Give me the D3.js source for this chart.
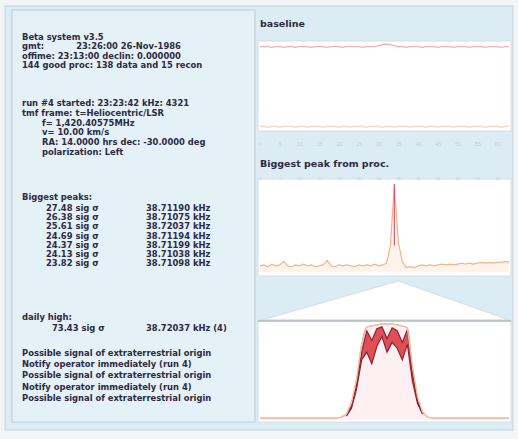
<!DOCTYPE html>
<html><head><meta charset="utf-8">
<script src="https://cdn.jsdelivr.net/npm/d3@7/dist/d3.min.js"></script>
<style>html,body{margin:0;padding:0;background:#f3f6f8;}svg{display:block;}</style>
</head><body>
<script>
// ---- data ----
const headerLines = [
  "Beta system v3.5",
  "gmt:           23:26:00 26-Nov-1986",
  "offime: 23:13:00 declin: 0.000000",
  "144 good proc: 138 data and 15 recon"
];
const runLines = [
  ["run #4 started: 23:23:42 kHz: 4321", 0],
  ["tmf frame: t=Heliocentric/LSR", 0],
  ["f= 1,420.40575MHz", 1],
  ["v= 10.00 km/s", 1],
  ["RA: 14.0000 hrs    dec: -30.0000 deg", 1],
  ["polarization: Left", 1]
];
const peakSigmas = ["27.48", "26.38", "25.61", "24.69", "24.37", "24.13", "23.82"];
const peakFreqs  = ["38.71190", "38.71075", "38.72037", "38.71194", "38.71199", "38.71038", "38.71098"];
const dailyHigh = ["73.43", "38.72037"];
const alertLines = [
  "Possible signal of extraterrestrial origin",
  "Notify operator immediately (run 4)",
  "Possible signal of extraterrestrial origin",
  "Notify operator immediately (run 4)",
  "Possible signal of extraterrestrial origin"
];
const titles = ["baseline", "Biggest peak from proc."];

// baseline spectrum (64 channels), upper (red) and lower (orange) traces
const baselineTop = [0.97,0.97,0.97,0.96,0.97,0.97,0.96,0.97,0.97,0.96,0.97,0.97,0.97,0.96,0.97,0.97,
  0.97,0.96,0.97,0.97,0.97,0.96,0.97,0.97,0.97,0.97,0.96,0.97,0.97,0.97,0.98,0.99,
  1.00,0.99,0.98,0.97,0.97,0.96,0.97,0.97,0.97,0.96,0.97,0.97,0.97,0.96,0.97,0.97,
  0.97,0.96,0.97,0.97,0.97,0.96,0.97,0.97,0.97,0.96,0.97,0.97,0.97,0.96,0.97,0.97];
const baselineBottom = [0.03,0.03,0.02,0.03,0.03,0.02,0.03,0.03,0.03,0.02,0.03,0.03,0.02,0.03,0.03,0.03,
  0.02,0.03,0.03,0.03,0.02,0.03,0.03,0.02,0.03,0.03,0.03,0.02,0.03,0.03,0.03,0.02,
  0.03,0.03,0.02,0.03,0.03,0.03,0.02,0.03,0.03,0.03,0.02,0.03,0.03,0.02,0.03,0.03,
  0.03,0.02,0.03,0.03,0.03,0.02,0.03,0.03,0.03,0.02,0.03,0.03,0.03,0.02,0.03,0.03];

// biggest-peak spectrum (64 channels)
const peakSpectrum = [0.07,0.08,0.06,0.09,0.07,0.08,0.12,0.07,0.06,0.08,0.07,0.09,0.07,0.08,0.06,0.07,
  0.08,0.13,0.07,0.06,0.08,0.07,0.08,0.07,0.06,0.08,0.07,0.08,0.07,0.09,0.07,0.08,
  0.10,0.30,1.00,0.34,0.12,0.05,0.06,0.05,0.07,0.08,0.07,0.08,0.07,0.08,0.09,0.08,
  0.09,0.08,0.09,0.10,0.09,0.10,0.09,0.10,0.11,0.10,0.11,0.10,0.11,0.11,0.12,0.11];
const peakIndex = 34;

// zoomed spectrum around the peak (50 channels): outer trace, upper and lower envelope
const zoomOuter = [0.02,0.02,0.02,0.02,0.02,0.02,0.02,0.02,0.02,0.02,0.02,0.02,0.02,0.02,0.02,0.02,
  0.03,0.06,0.18,0.42,0.78,0.96,0.97,0.98,0.99,0.99,0.99,0.98,0.97,0.95,0.55,0.24,0.08,
  0.03,0.02,0.02,0.02,0.02,0.02,0.02,0.02,0.02,0.02,0.02,0.02,0.02,0.02,0.02,0.02,0.02];
const zoomUpper = [0.02,0.02,0.02,0.02,0.02,0.02,0.02,0.02,0.02,0.02,0.02,0.02,0.02,0.02,0.02,0.02,
  0.03,0.05,0.14,0.36,0.70,0.92,0.82,0.94,0.96,0.84,0.95,0.92,0.80,0.93,0.48,0.20,0.07,
  0.03,0.02,0.02,0.02,0.02,0.02,0.02,0.02,0.02,0.02,0.02,0.02,0.02,0.02,0.02,0.02,0.02];
const zoomLower = [0.02,0.02,0.02,0.02,0.02,0.02,0.02,0.02,0.02,0.02,0.02,0.02,0.02,0.02,0.02,0.02,
  0.03,0.04,0.12,0.32,0.62,0.70,0.58,0.76,0.86,0.70,0.80,0.74,0.62,0.78,0.40,0.17,0.06,
  0.03,0.02,0.02,0.02,0.02,0.02,0.02,0.02,0.02,0.02,0.02,0.02,0.02,0.02,0.02,0.02,0.02];

// ---- drawing ----
const W = 518, H = 439;
const svg = d3.select("body").append("svg").attr("width", W).attr("height", H);
const font = "'DejaVu Sans', Verdana, sans-serif";
const ink = "#2e2a44";

svg.append("rect").attr("x",0).attr("y",0).attr("width",W).attr("height",H).attr("fill","#f3f6f8");
svg.append("rect").attr("x",5).attr("y",6).attr("width",508).attr("height",424)
  .attr("fill","#dcecf4").attr("stroke","#c3d2da");
// left panel
svg.append("rect").attr("x",12).attr("y",10).attr("width",243).attr("height",412)
  .attr("fill","#e4f1f7").attr("stroke","#bccad3");

const txt = svg.append("g").attr("font-family", font).attr("font-weight","bold")
  .attr("font-size","8.4px").attr("fill", ink);

headerLines.forEach((s,i)=> txt.append("text").attr("x",22).attr("y",40+i*9.4).text(s).attr("xml:space","preserve"));
runLines.forEach((d,i)=> txt.append("text").attr("x", d[1] ? 42 : 22).attr("y",106+i*9.8).text(d[0]));
txt.append("text").attr("x",22).attr("y",200).text("Biggest peaks:");
peakSigmas.forEach((s,i)=>{
  txt.append("text").attr("x",46).attr("y",211+i*9.2).text(s + " sig \u03c3");
  txt.append("text").attr("x",146).attr("y",211+i*9.2).text(peakFreqs[i] + " kHz");
});
txt.append("text").attr("x",22).attr("y",320).text("daily high:");
txt.append("text").attr("x",52).attr("y",331).text(dailyHigh[0] + " sig \u03c3");
txt.append("text").attr("x",146).attr("y",331).text(dailyHigh[1] + " kHz (4)");
alertLines.forEach((s,i)=> txt.append("text").attr("x",22).attr("y",356+i*11.2).text(s));

// titles
svg.append("g").attr("font-family", font).attr("font-weight","bold").attr("font-size","9.5px").attr("fill", ink)
  .selectAll("text").data(titles).join("text")
  .attr("x",260).attr("y",(d,i)=> i===0 ? 27 : 167).text(d=>d);

const plotX0 = 258, plotX1 = 511;
function panel(y0, y1){
  svg.append("rect").attr("x",plotX0).attr("y",y0).attr("width",plotX1-plotX0).attr("height",y1-y0)
    .attr("fill","#ffffff").attr("stroke","#d4dee4");
}

// baseline chart
panel(41, 131);
const xb = d3.scaleLinear().domain([0, baselineTop.length-1]).range([plotX0+2, plotX1-2]);
const yb = d3.scaleLinear().domain([0,1]).range([129, 44]);
const lineB = d3.line().x((d,i)=>xb(i)).y(d=>yb(d));
svg.append("path").datum(baselineTop).attr("d",lineB).attr("fill","none").attr("stroke","#f3b0b4").attr("stroke-width",1.3);
svg.append("path").datum(baselineBottom).attr("d",lineB).attr("fill","none").attr("stroke","#f8d3b8").attr("stroke-width",1.3);
svg.append("g").attr("transform","translate(0,139)")
  .call(d3.axisBottom(xb).ticks(12).tickSize(0).tickFormat(d=>d))
  .call(g=>{g.select(".domain").remove(); g.selectAll("text").attr("fill","#bfcbd2").attr("font-size","5px");});

// biggest peak chart
panel(179, 276);
const xp = d3.scaleLinear().domain([0, peakSpectrum.length-1]).range([plotX0+2, plotX1-2]);
const yp = d3.scaleLinear().domain([0,1]).range([272, 184]);
const lineP = d3.line().x((d,i)=>xp(i)).y(d=>yp(d));
svg.append("path").datum(peakSpectrum).attr("d",d3.area().x((d,i)=>xp(i)).y0(272).y1(d=>yp(d)))
  .attr("fill","#fff4ec");
svg.append("path").datum(peakSpectrum).attr("d",lineP).attr("fill","none").attr("stroke","#f2b48c").attr("stroke-width",1.2);
svg.append("line").attr("x1",xp(peakIndex)).attr("x2",xp(peakIndex)).attr("y1",yp(0.3)).attr("y2",yp(1))
  .attr("stroke","#e0607a").attr("stroke-width",1.3);
svg.append("g").attr("transform","translate(0,183)")
  .call(d3.axisTop(xp).ticks(16).tickSize(0).tickFormat(d=>d))
  .call(g=>{g.select(".domain").remove(); g.selectAll("text").attr("fill","#c7cfd6").attr("font-size","4px");});

// zoom wedge
const zx0 = plotX0+4, zx1 = plotX1-2, zTop = 320;
svg.append("path").attr("d", `M${xp(peakIndex)+4},281 L${zx0},${zTop} L${zx1},${zTop} Z`)
  .attr("fill","#ffffff").attr("stroke","#cfd8de").attr("stroke-width",0.8);

// zoomed chart
panel(zTop, 422);
svg.append("line").attr("x1",plotX0).attr("x2",plotX1).attr("y1",zTop+1).attr("y2",zTop+1).attr("stroke","#8f979c").attr("stroke-width",1.2);
const xz = d3.scaleLinear().domain([0, zoomOuter.length-1]).range([plotX0+2, plotX1-2]);
const yz = d3.scaleLinear().domain([0,1]).range([420, 323]);
svg.append("path").datum(zoomOuter).attr("d", d3.area().x((d,i)=>xz(i)).y0(420).y1(d=>yz(d)).curve(d3.curveMonotoneX))
  .attr("fill","#fdf0f3");
svg.append("path").datum(zoomOuter).attr("d", d3.line().x((d,i)=>xz(i)).y(d=>yz(d)).curve(d3.curveMonotoneX))
  .attr("fill","none").attr("stroke","#c9a3ad").attr("stroke-width",1);
const band = zoomUpper.map((d,i)=>({u:d, l:zoomLower[i]}));
svg.append("path").datum(band.slice(17,33)).attr("d", d3.area().x((d,i)=>xz(i+17)).y0(d=>yz(d.l)).y1(d=>yz(d.u)))
  .attr("fill","#d8343a").attr("opacity",0.85);
svg.append("path").datum(zoomUpper.slice(17,33)).attr("d", d3.line().x((d,i)=>xz(i+17)).y(d=>yz(d)))
  .attr("fill","none").attr("stroke","#8c2233").attr("stroke-width",1.2);
svg.append("path").datum(zoomLower.slice(17,33)).attr("d", d3.line().x((d,i)=>xz(i+17)).y(d=>yz(d)))
  .attr("fill","none").attr("stroke","#8c2233").attr("stroke-width",1.2);
svg.append("path").datum(zoomOuter).attr("d", d3.line().x((d,i)=>xz(i)).y(d=>yz(d)))
  .attr("fill","none").attr("stroke","#f2bf9e").attr("stroke-width",1.3);
</script>
</body></html>
